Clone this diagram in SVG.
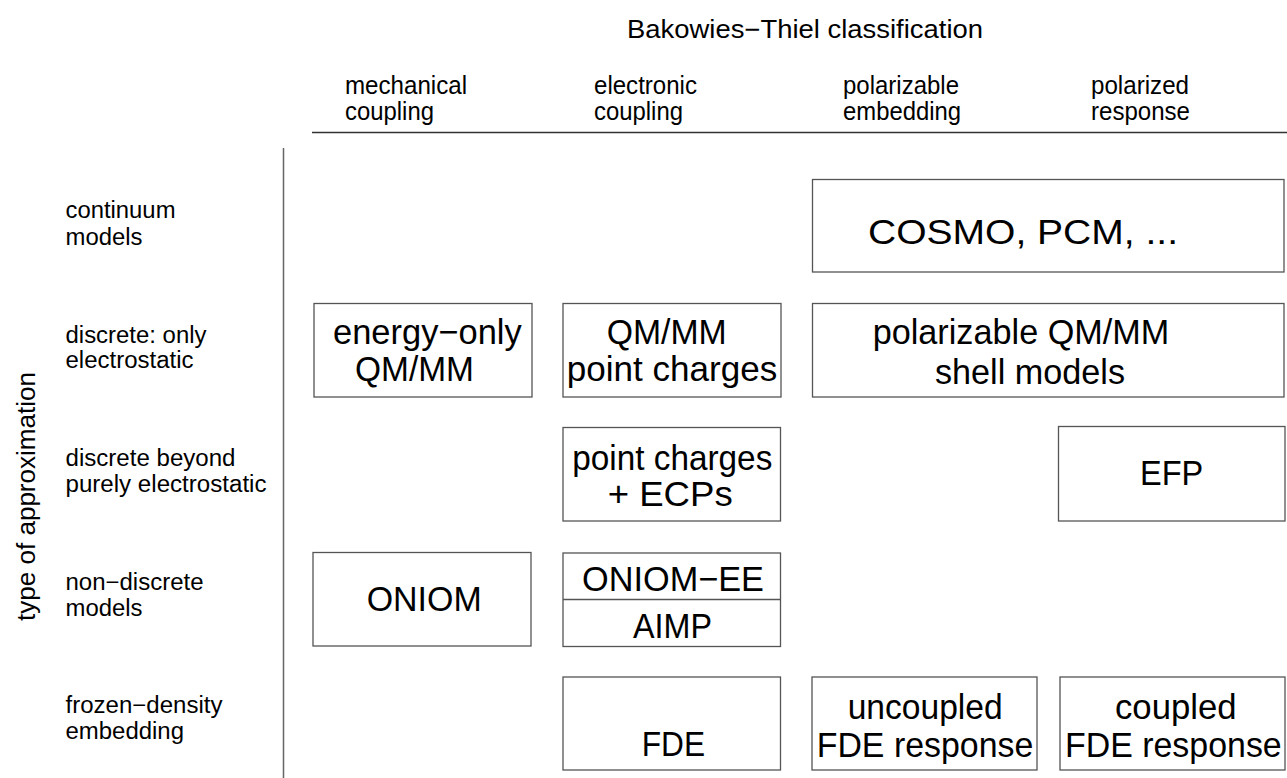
<svg xmlns="http://www.w3.org/2000/svg" width="1287" height="778" viewBox="0 0 1287 778">
<style>
text{font-family:"Liberation Sans",Arial,Helvetica,sans-serif;fill:#000;}
.hd{font-size:25.5px;}
.rl{font-size:23px;}
.bx{font-size:35px;}
.box{fill:#fff;stroke:#555;stroke-width:1.3;}
.ln{stroke:#333;stroke-width:1.5;fill:none;}
</style>
<rect width="1287" height="778" fill="#fff"/>
<g id="header">
<text class="hd" x="627" y="38" textLength="356" lengthAdjust="spacingAndGlyphs">Bakowies−Thiel classification</text>
<text class="hd" x="345" y="94" textLength="122" lengthAdjust="spacingAndGlyphs">mechanical</text>
<text class="hd" x="345" y="120" textLength="89" lengthAdjust="spacingAndGlyphs">coupling</text>
<text class="hd" x="594" y="94" textLength="103" lengthAdjust="spacingAndGlyphs">electronic</text>
<text class="hd" x="594" y="120" textLength="89" lengthAdjust="spacingAndGlyphs">coupling</text>
<text class="hd" x="843" y="94" textLength="116" lengthAdjust="spacingAndGlyphs">polarizable</text>
<text class="hd" x="843" y="120" textLength="118" lengthAdjust="spacingAndGlyphs">embedding</text>
<text class="hd" x="1091" y="94" textLength="98" lengthAdjust="spacingAndGlyphs">polarized</text>
<text class="hd" x="1091" y="120" textLength="99" lengthAdjust="spacingAndGlyphs">response</text>
</g>
<g id="rowlabels">
<text transform="translate(35,496.5) rotate(-90)" text-anchor="middle" style="font-size:26px" textLength="249" lengthAdjust="spacingAndGlyphs">type of approximation</text>
<text class="rl" x="65.5" y="218" textLength="110" lengthAdjust="spacingAndGlyphs">continuum</text>
<text class="rl" x="65.5" y="244.5" textLength="77" lengthAdjust="spacingAndGlyphs">models</text>
<text class="rl" x="65.5" y="342.5" textLength="141" lengthAdjust="spacingAndGlyphs">discrete: only</text>
<text class="rl" x="65.5" y="368" textLength="128" lengthAdjust="spacingAndGlyphs">electrostatic</text>
<text class="rl" x="65.5" y="466" textLength="170" lengthAdjust="spacingAndGlyphs">discrete beyond</text>
<text class="rl" x="65.5" y="492" textLength="201" lengthAdjust="spacingAndGlyphs">purely electrostatic</text>
<text class="rl" x="65.5" y="589.5" textLength="138" lengthAdjust="spacingAndGlyphs">non−discrete</text>
<text class="rl" x="65.5" y="616" textLength="77" lengthAdjust="spacingAndGlyphs">models</text>
<text class="rl" x="65.5" y="713" textLength="157" lengthAdjust="spacingAndGlyphs">frozen−density</text>
<text class="rl" x="65.5" y="739" textLength="118.5" lengthAdjust="spacingAndGlyphs">embedding</text>
</g>
<g id="connectors">
<line class="ln" x1="312" y1="132.5" x2="1287" y2="132.5"/>
<line class="ln" x1="283.5" y1="148" x2="283.5" y2="778" style="stroke:#666"/>
</g>
<g id="cosmo">
<rect class="box" x="812.5" y="179.5" width="471.5" height="92.5"/>
<text class="bx" x="868" y="244" textLength="310" lengthAdjust="spacingAndGlyphs">COSMO, PCM, ...</text>
</g>
<g id="energy-only">
<rect class="box" x="314" y="303.5" width="218" height="93.5"/>
<text class="bx" x="333" y="344" textLength="188.7" lengthAdjust="spacingAndGlyphs">energy−only</text>
<text class="bx" x="355" y="381" textLength="119" lengthAdjust="spacingAndGlyphs">QM/MM</text>
</g>
<g id="qmmm-pc">
<rect class="box" x="563" y="303.5" width="218" height="93.5"/>
<text class="bx" x="606.7" y="344" textLength="120" lengthAdjust="spacingAndGlyphs">QM/MM</text>
<text class="bx" x="566.7" y="381" textLength="210.6" lengthAdjust="spacingAndGlyphs">point charges</text>
</g>
<g id="polarizable">
<rect class="box" x="812.5" y="303.5" width="471.5" height="93.5"/>
<text class="bx" x="872.7" y="343.5" textLength="296.6" lengthAdjust="spacingAndGlyphs">polarizable QM/MM</text>
<text class="bx" x="935" y="384" textLength="190" lengthAdjust="spacingAndGlyphs">shell models</text>
</g>
<g id="pc-ecp">
<rect class="box" x="563" y="427.5" width="217.5" height="93.5"/>
<text class="bx" x="572.3" y="470" textLength="200" lengthAdjust="spacingAndGlyphs">point charges</text>
<text class="bx" x="607.7" y="506" textLength="125" lengthAdjust="spacingAndGlyphs">+ ECPs</text>
</g>
<g id="efp">
<rect class="box" x="1058.5" y="426.5" width="226.5" height="94.5"/>
<text class="bx" x="1140" y="484.5" textLength="63.3" lengthAdjust="spacingAndGlyphs">EFP</text>
</g>
<g id="oniom">
<rect class="box" x="313" y="552.5" width="218" height="93.5"/>
<text class="bx" x="366.7" y="610.5" textLength="115" lengthAdjust="spacingAndGlyphs">ONIOM</text>
</g>
<g id="oniom-ee-aimp">
<rect class="box" x="563" y="553" width="217.5" height="93.5"/>
<line class="box" x1="563" y1="599.5" x2="780.5" y2="599.5"/>
<text class="bx" x="582" y="591" textLength="182" lengthAdjust="spacingAndGlyphs">ONIOM−EE</text>
<text class="bx" x="633" y="638" textLength="79" lengthAdjust="spacingAndGlyphs">AIMP</text>
</g>
<g id="fde">
<rect class="box" x="563" y="677" width="217.5" height="93"/>
<text class="bx" x="641.7" y="755.5" textLength="63.3" lengthAdjust="spacingAndGlyphs">FDE</text>
</g>
<g id="uncoupled">
<rect class="box" x="812" y="677" width="225" height="93"/>
<text class="bx" x="847.7" y="719" textLength="155" lengthAdjust="spacingAndGlyphs">uncoupled</text>
<text class="bx" x="816.7" y="756.5" textLength="216.6" lengthAdjust="spacingAndGlyphs">FDE response</text>
</g>
<g id="coupled">
<rect class="box" x="1060" y="677" width="225" height="93"/>
<text class="bx" x="1115" y="719" textLength="121.7" lengthAdjust="spacingAndGlyphs">coupled</text>
<text class="bx" x="1065" y="756.5" textLength="216.7" lengthAdjust="spacingAndGlyphs">FDE response</text>
</g>
</svg>
